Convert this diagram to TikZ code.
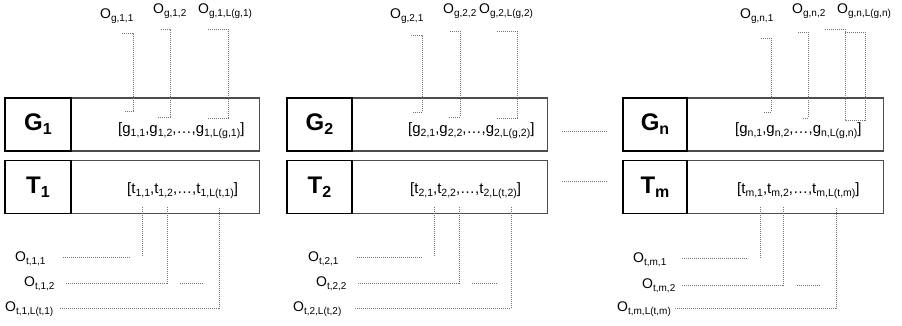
\documentclass[tikz,border=0pt]{standalone}
\usepackage{fontspec}
\setmainfont{Liberation Sans}
\newcommand\lsub[1]{\raisebox{-3pt}{\fontsize{10.5}{12}\selectfont #1}}
\newcommand\osub[1]{\raisebox{-3pt}{\fontsize{10}{12}\selectfont #1}}
\newcommand\bsub[1]{\raisebox{-4pt}{\fontsize{16}{18}\selectfont\bfseries #1}}
\begin{document}
\begin{tikzpicture}[x=1pt,y=-1pt,
  cell/.style={draw=black,line width=1.3pt,minimum height=53pt,inner sep=0pt,font=\fontsize{24}{28}\selectfont\bfseries},
  listbox/.style={draw=black!70,line width=1.3pt,minimum height=53pt,inner sep=0pt,anchor=west},
  listtext/.style={anchor=base west,inner sep=0pt,font=\fontsize{15}{18}\selectfont},
  olabel/.style={anchor=base west,inner sep=0pt,font=\fontsize{14}{16}\selectfont},
  conn/.style={draw=black!55,line width=0.8pt,dash pattern=on 1pt off 1pt}]
\useasboundingbox (0,0) rectangle (902,326);

% ---- boxes
\node[listbox,minimum width=188pt] (G1l) at (71,124.5) {};
\node[cell,minimum width=66pt] (G1) at (38,124.5) {G\bsub{1}};
\node[listbox,minimum width=188pt] (T1l) at (71,187) {};
\node[cell,minimum width=66pt] (T1) at (38,187) {T\bsub{1}};

\node[listbox,minimum width=195pt] (G2l) at (352,124.5) {};
\node[cell,minimum width=65pt] (G2) at (319.5,124.5) {G\bsub{2}};
\node[listbox,minimum width=195pt] (T2l) at (352,187) {};
\node[cell,minimum width=65pt] (T2) at (319.5,187) {T\bsub{2}};

\node[listbox,minimum width=196pt] (Gnl) at (687,124.5) {};
\node[cell,minimum width=64pt] (Gn) at (655,124.5) {G\bsub{n}};
\node[listbox,minimum width=196pt] (Tml) at (687,187) {};
\node[cell,minimum width=64pt] (Tm) at (655,187) {T\bsub{m}};

% ---- list texts
\node[listtext] (g1) at (118,134) {[g\lsub{1,1},g\lsub{1,2},…,g\lsub{1,L(g,1)}]};
\node[listtext] (g2) at (408,134) {[g\lsub{2,1},g\lsub{2,2},…,g\lsub{2,L(g,2)}]};
\node[listtext] (gn) at (735,134) {[g\lsub{n,1},g\lsub{n,2},…,g\lsub{n,L(g,n)}]};
\node[listtext] (t1) at (127,193) {[t\lsub{1,1},t\lsub{1,2},…,t\lsub{1,L(t,1)}]};
\node[listtext] (t2) at (410,193) {[t\lsub{2,1},t\lsub{2,2},…,t\lsub{2,L(t,2)}]};
\node[listtext] (tm) at (737,193) {[t\lsub{m,1},t\lsub{m,2},…,t\lsub{m,L(t,m)}]};

% ---- top labels
\node[olabel] (og11) at (100,19) {O\osub{g,1,1}};
\node[olabel] (og12) at (153,14) {O\osub{g,1,2}};
\node[olabel] (og1L) at (198,14) {O\osub{g,1,L(g,1)}};
\node[olabel] (og21) at (390,19) {O\osub{g,2,1}};
\node[olabel] (og22) at (443,14) {O\osub{g,2,2}};
\node[olabel] (og2L) at (479,14) {O\osub{g,2,L(g,2)}};
\node[olabel] (ogn1) at (740,19) {O\osub{g,n,1}};
\node[olabel] (ogn2) at (792,14) {O\osub{g,n,2}};
\node[olabel] (ognL) at (837,14) {O\osub{g,n,L(g,n)}};

% ---- bottom labels
\node[olabel] (ot11) at (15,261) {O\osub{t,1,1}};
\node[olabel] (ot12) at (24,286) {O\osub{t,1,2}};
\node[olabel] (ot1L) at (5,311) {O\osub{t,1,L(t,1)}};
\node[olabel] (ot21) at (308,261) {O\osub{t,2,1}};
\node[olabel] (ot22) at (316,286) {O\osub{t,2,2}};
\node[olabel] (ot2L) at (293,311) {O\osub{t,2,L(t,2)}};
\node[olabel] (otm1) at (633,262) {O\osub{t,m,1}};
\node[olabel] (otm2) at (642,288) {O\osub{t,m,2}};
\node[olabel] (otmL) at (617,311) {O\osub{t,m,L(t,m)}};

% ---- top brackets
\draw[conn] (122,33) -- (133,33) -- (133,111) -- (124,111);
\draw[conn] (161,29) -- (170,29) -- (170,117) -- (158,117);
\draw[conn] (208,29) -- (228,29) -- (228,118) -- (208,118);
\draw[conn] (411,35) -- (422,35) -- (422,112) -- (413,112);
\draw[conn] (450,31) -- (460,31) -- (460,117) -- (449,117);
\draw[conn] (497,31) -- (517,31) -- (517,118) -- (497,118);
\draw[conn] (761,38) -- (771,38) -- (771,112) -- (763,112);
\draw[conn] (798,32) -- (808,32) -- (808,118) -- (802,118);
\draw[conn] (825,29) -- (845,29) -- (845,120) -- (865,120) -- (865,32) -- (845,32);

% ---- bottom connectors
\draw[conn] (63,257) -- (130,257);
\draw[conn] (142,207) -- (142,257);
\draw[conn] (66,283) -- (167,283) -- (167,207);
\draw[conn] (180,283) -- (203,283);
\draw[conn] (60,308) -- (219,308) -- (219,207);

\draw[conn] (357,257) -- (423,257);
\draw[conn] (434,207) -- (434,257);
\draw[conn] (358,283) -- (459,283) -- (459,207);
\draw[conn] (472,283) -- (497,283);
\draw[conn] (355,308) -- (511,308) -- (511,207);

\draw[conn] (682,258) -- (747,258);
\draw[conn] (760,207) -- (760,258);
\draw[conn] (682,285) -- (783,285) -- (783,207);
\draw[conn] (797,285) -- (820,285);
\draw[conn] (675,308) -- (836,308) -- (836,207);

% ---- continuation dots
\draw[conn] (562,131) -- (608,131);
\draw[conn] (562,181) -- (608,181);
\end{tikzpicture}
\end{document}
